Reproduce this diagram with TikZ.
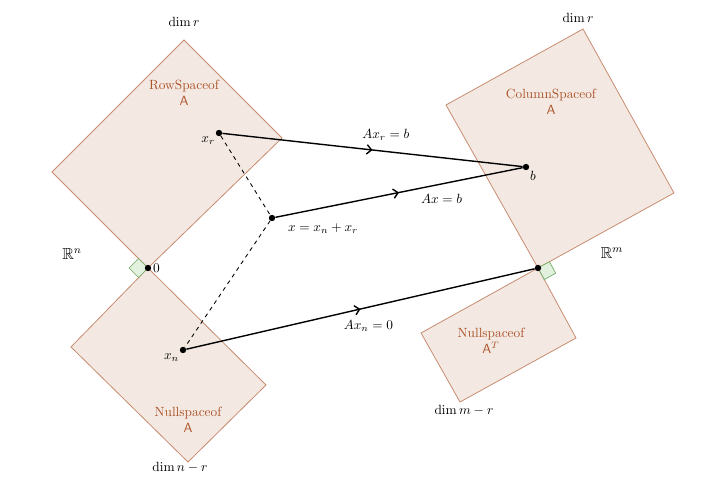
\documentclass[tikz,border=0pt]{standalone}
\usepackage{amssymb}
\usetikzlibrary{decorations.markings,arrows.meta}
\definecolor{spacefill}{RGB}{243,233,226}
\definecolor{spaceline}{RGB}{200,140,112}
\definecolor{spacetext}{RGB}{172,82,40}
\definecolor{markfill}{RGB}{226,240,222}
\definecolor{markline}{RGB}{108,168,96}
\tikzset{
    subspace/.style={draw=spaceline, fill=spacefill, line width=0.6pt},
    spacelabel/.style={text=spacetext, align=center, inner sep=1pt},
    rightmark/.style={draw=markline, fill=markfill, line width=0.5pt},
    dot/.style={circle, fill=black, inner sep=0pt, minimum size=4.8pt},
    maparrow/.style={line width=1.05pt, decoration={markings, mark=at position 0.5 with {\arrow{Straight Barb[length=3.5pt,width=7pt]}}}, postaction={decorate}},
    joinline/.style={dashed, line width=0.65pt}
}
\begin{document}
\begin{tikzpicture}[x=0.75pt, y=-0.75pt]
    \useasboundingbox (0,0) rectangle (721,492);

    %Rum R^n
        \filldraw[subspace] (184,40)--(282,138)--(148,268)--(52,172)--cycle;
        \filldraw[subspace] (148,268)--(266,385)--(188,462)--(71,347)--cycle;
        \filldraw[rightmark] (148,268)--(138.5,258.5)--(129,268)--(138.5,277.5)--cycle;

    %Rum R^m
        \filldraw[subspace] (583,29)--(674,193)--(538,268)--(446,105)--cycle;
        \filldraw[subspace] (538,268)--(576,338)--(460,402)--(421,333)--cycle;
        \filldraw[rightmark] (538,268)--(549.4,261.7)--(555.7,273.2)--(544.3,279.5)--cycle;

    %Tekster
        \node[spacelabel] (rowlbl) at (184,93) {RowSpaceof\\\textsf{A}};
        \node[spacelabel] (nulllbl) at (188,420) {Nullspaceof\\\textsf{A}};
        \node[spacelabel] (collbl) at (551,102) {ColumnSpaceof\\\textsf{A}};
        \node[spacelabel] (leftnulllbl) at (491,341) {Nullspaceof\\$\mathsf{A}^T$};
        \node (rowdim) at (184,22) {$\dim r$};
        \node (nulldim) at (180,467) {$\dim n-r$};
        \node (coldim) at (578,18) {$\dim r$};
        \node (leftnulldim) at (464,410) {$\dim m-r$};
        \node[font=\large] (Rn) at (72,254) {$\mathbb{R}^n$};
        \node[font=\large] (Rm) at (612,253) {$\mathbb{R}^m$};

    %Punkter
        \node[dot] (xr) at (219,133) {};
        \node[dot] (x) at (272,218) {};
        \node[dot] (xn) at (183,350) {};
        \node[dot] (b) at (526,167) {};
        \node[dot] (zeroL) at (148,268) {};
        \node[dot] (zeroR) at (538,268) {};
        \node[anchor=north east, inner sep=1pt] at (xr.south west) {$x_r$};
        \node[anchor=north west, inner sep=2pt] at ([xshift=8pt]x.south east) {$x=x_n+x_r$};
        \node[anchor=north east, inner sep=1pt] at (xn.south west) {$x_n$};
        \node[anchor=north west, inner sep=1pt] at (b.south east) {$b$};
        \node[anchor=west, inner sep=1pt] at (zeroL.east) {$0$};

    %Linjer
        \draw[joinline] (xr)--(x)--(xn);
        \draw[maparrow] (xr)--(b) node[midway, above=3pt, xshift=10pt] {$Ax_r=b$};
        \draw[maparrow] (x)--(b) node[pos=0.64, below=3pt, xshift=6pt] {$Ax=b$};
        \draw[maparrow] (xn)--(zeroR) node[midway, below=5pt, xshift=6pt] {$Ax_n=0$};
    \end{tikzpicture}
\end{document}
